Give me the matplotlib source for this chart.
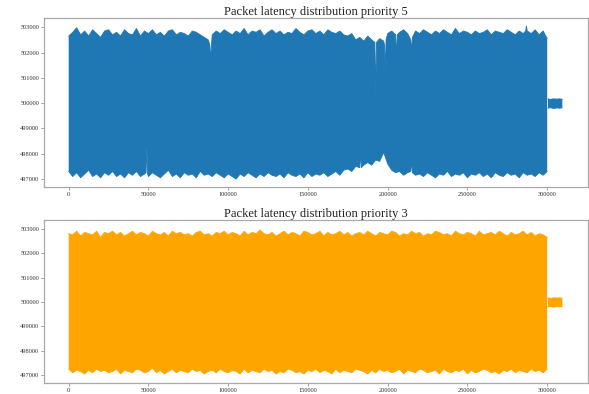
import numpy as np
import matplotlib
matplotlib.use("Agg")
import matplotlib.pyplot as plt

# ---- priority 5: upper and lower edge of the latency trace ----
p5_hi_x = [0, 2500, 5000, 7500, 10000, 12500, 15000, 17500, 20000, 22500,
           25000, 27500, 30000, 32500, 35000, 37500, 40000, 42500, 45000, 47500,
           50000, 52500, 55000, 57500, 60000, 62500, 65000, 67500, 70000, 72500,
           75000, 77500, 80000, 82500, 85000, 87500, 88500, 89000, 89500, 90000,
           92500, 95000, 97500, 100000, 102500, 105000, 107500, 110000, 112500, 115000,
           117500, 120000, 122500, 125000, 127500, 130000, 132500, 135000, 137500, 140000,
           142500, 145000, 147500, 150000, 152500, 155000, 157500, 160000, 162500, 165000,
           167500, 170000, 172500, 175000, 177500, 180000, 182500, 185000, 187500, 190000,
           192000, 192500, 193000, 195000, 197500, 198000, 198500, 199000, 200000, 202500,
           205000, 205500, 206000, 207500, 210000, 212500, 214500, 215000, 215500, 217500,
           220000, 222500, 225000, 227500, 230000, 232500, 235000, 237500, 240000, 242500,
           245000, 247500, 250000, 252500, 255000, 257500, 260000, 262500, 265000, 267500,
           270000, 272500, 275000, 277500, 280000, 282500, 285000, 286500, 287000, 287500,
           290000, 292500, 295000, 297500, 300000]
p5_hi = [502650, 502800, 502980, 502700, 502850, 502650, 502900, 502750, 502600, 502850,
         502900, 502700, 502800, 502650, 502900, 502750, 502700, 502950, 502650, 502850,
         502750, 502900, 502700, 502800, 502650, 502850, 502900, 502700, 502800, 502750,
         502650, 502850, 502800, 502700, 502600, 502500, 502300, 501700, 502300, 502700,
         502850, 502750, 502900, 502800, 502700, 502850, 502750, 502950, 502700, 502850,
         502800, 502900, 502650, 502800, 502900, 502750, 502850, 502700, 502800, 502750,
         502950, 502800, 502700, 502850, 502900, 502750, 502850, 502700, 502900, 502800,
         502750, 502850, 502700, 502650, 502750, 502500, 502600, 502450, 502650, 502500,
         502400, 500300, 502400, 502550, 502450, 502300, 501300, 502500, 502750, 502850,
         502700, 501800, 502700, 502800, 502900, 502750, 502500, 502000, 502600, 502850,
         502750, 502900, 502800, 502700, 502850, 502750, 502900, 502800, 502700, 502950,
         502750, 502850, 502800, 502700, 502850, 502750, 502800, 502900, 502700, 502850,
         502800, 502750, 502900, 502800, 502700, 502850, 502750, 502850, 503050, 502850,
         502750, 502900, 502700, 502850, 502550]

p5_lo_x = [0, 2500, 5000, 7500, 10000, 12500, 15000, 17500, 20000, 22500,
           25000, 27500, 30000, 32500, 35000, 37500, 40000, 42500, 45000, 47500,
           48500, 49000, 49500, 50000, 52500, 55000, 57500, 60000, 62500, 65000,
           67500, 70000, 72500, 75000, 77500, 80000, 82500, 85000, 87500, 90000,
           92500, 95000, 97500, 100000, 102500, 105000, 107500, 110000, 112500, 115000,
           117500, 120000, 122500, 125000, 127500, 130000, 132500, 135000, 137500, 140000,
           142500, 145000, 147500, 150000, 152500, 155000, 157500, 160000, 162500, 165000,
           167500, 170000, 172500, 175000, 177500, 180000, 182500, 183000, 183500, 185000,
           187500, 190000, 192500, 195000, 197500, 200000, 202500, 205000, 207500, 210000,
           212500, 214500, 215000, 215500, 217500, 220000, 222500, 225000, 227500, 230000,
           232500, 235000, 237500, 240000, 242500, 245000, 247500, 250000, 252500, 255000,
           257500, 260000, 262500, 265000, 267500, 270000, 272500, 275000, 277500, 280000,
           282500, 285000, 287500, 290000, 292500, 295000, 297500, 300000]
p5_lo = [497300, 497100, 497250, 497050, 497200, 497350, 497100, 497200, 497050, 497250,
         497150, 497300, 497100, 497200, 497050, 497250, 497150, 497300, 497100, 497200,
         497250, 498250, 497200, 497100, 497250, 497150, 497050, 497200, 497350, 497100,
         497200, 497050, 497250, 497150, 497200, 497050, 497300, 497150, 497200, 497100,
         497250, 497150, 497050, 497200, 497100, 497000, 497200, 497100, 497250, 497150,
         497050, 497200, 497100, 497250, 497150, 497100, 497200, 497050, 497250, 497150,
         497100, 497200, 497050, 497250, 497100, 497200, 497150, 497250, 497100, 497200,
         497300, 497150, 497350, 497400, 497300, 497500, 497450, 498050, 497450, 497550,
         497650, 497550, 497750, 497700, 498050, 497600, 497350, 497250, 497300, 497150,
         497250, 497300, 497750, 497250, 497150, 497200, 497100, 497250, 497150, 497050,
         497200, 497150, 497300, 497100, 497200, 497150, 497250, 497050, 497200, 497150,
         497250, 497100, 497200, 497050, 497250, 497150, 497100, 497250, 497150, 497200,
         497050, 497250, 497150, 497200, 497100, 497250, 497150, 497300]

# ---- priority 3 (sampled every 2500 packets) ----
p3_x = np.arange(0, 300001, 2500)
p3_hi = [502800, 502750, 502900, 502700, 502850, 502800, 502750, 502900, 502650, 502850,
         502800, 502900, 502750, 502850, 502700, 502800, 502900, 502750, 502850, 502800,
         502700, 502900, 502800, 502750, 502850, 502700, 502900, 502800, 502850, 502750,
         502800, 502700, 502850, 502900, 502750, 502800, 502700, 502850, 502800, 502900,
         502750, 502850, 502800, 502700, 502900, 502750, 502850, 502800, 502950, 502800,
         502750, 502850, 502700, 502800, 502900, 502750, 502850, 502800, 502700, 502900,
         502850, 502750, 502800, 502900, 502700, 502850, 502750, 502800, 502900, 502750,
         502850, 502700, 502800, 502850, 502750, 502900, 502800, 502700, 502850, 502800,
         502750, 502900, 502850, 502700, 502800, 502750, 502900, 502800, 502850, 502700,
         502800, 502750, 502900, 502850, 502750, 502800, 502700, 502900, 502800, 502750,
         502850, 502800, 502700, 502900, 502750, 502800, 502850, 502750, 502900, 502800,
         502700, 502850, 502750, 502800, 502900, 502750, 502850, 502700, 502800, 502750,
         502650]
p3_lo = [497250, 497100, 497200, 497150, 497050, 497200, 497100, 497250, 497150, 497200,
         497100, 497150, 497250, 497050, 497200, 497150, 497100, 497250, 497200, 497100,
         497150, 497300, 497100, 497200, 497050, 497150, 497250, 497100, 497200, 497150,
         497100, 497250, 497150, 497200, 497050, 497150, 497200, 497100, 497250, 497150,
         497100, 497200, 497150, 497050, 497250, 497100, 497200, 497150, 497100, 497250,
         497150, 497200, 497050, 497150, 497100, 497250, 497200, 497100, 497150, 497050,
         497200, 497150, 497250, 497100, 497200, 497150, 497050, 497250, 497100, 497200,
         497150, 497100, 497250, 497200, 497150, 497050, 497200, 497100, 497250, 497150,
         497200, 497100, 497150, 497250, 497050, 497200, 497150, 497100, 497250, 497200,
         497100, 497150, 497200, 497050, 497250, 497150, 497100, 497200, 497150, 497250,
         497050, 497200, 497100, 497150, 497250, 497200, 497100, 497150, 497050, 497200,
         497150, 497250, 497100, 497200, 497150, 497100, 497250, 497150, 497200, 497100,
         497250]

# trailing packets after the main burst (both priorities)
tail_x = [300500, 302000, 304000, 306000, 308000, 309500]
tail_hi = [500170, 500150, 500170, 500160, 500170, 500150]
tail_lo = [499800, 499820, 499790, 499810, 499800, 499820]

y_ticks = [497000, 498000, 499000, 500000, 501000, 502000, 503000]
x_ticks = [0, 50000, 100000, 150000, 200000, 250000, 300000]

titles = ["Packet latency distribution priority 5", "Packet latency distribution priority 3"]
colors = ["#1f77b4", "#ffa500"]

serif = ["Liberation Serif", "DejaVu Serif"]

fig = plt.figure(figsize=(5.89, 3.94), dpi=100)
ax1 = fig.add_axes([0.0747, 0.525, 0.9233, 0.429])
ax2 = fig.add_axes([0.0747, 0.0279, 0.9233, 0.4137])


def draw_band(ax, hx, hy, lx, ly, col, lw):
    # closed outline: upper edge left->right, lower edge right->left
    px = np.concatenate([np.asarray(hx), np.asarray(lx)[::-1]])
    py = np.concatenate([np.asarray(hy), np.asarray(ly)[::-1]])
    ax.fill(px, py, color=col, lw=0)
    ax.plot(hx, hy, color=col, lw=lw)
    ax.plot(lx, ly, color=col, lw=lw)


panels = [(ax1, p5_hi_x, p5_hi, p5_lo_x, p5_lo), (ax2, p3_x, p3_hi, p3_x, p3_lo)]
for (ax, hx, hy, lx, ly), title, col in zip(panels, titles, colors):
    draw_band(ax, hx, hy, lx, ly, col, 0.6)
    draw_band(ax, tail_x, tail_hi, tail_x, tail_lo, col, 0.6)
    ax.set_xlim(-15500, 325500)
    ax.set_ylim(496680, 503360)
    ax.set_yticks(y_ticks)
    ax.set_yticklabels([str(v) for v in y_ticks], fontfamily=serif, fontsize=4.6, color="#333333")
    ax.set_xticks(x_ticks)
    ax.set_xticklabels([str(v) for v in x_ticks], fontfamily=serif, fontsize=4.6, color="#333333")
    ax.tick_params(length=2.2, width=0.5, color="#777777", pad=1.2)
    for sp in ax.spines.values():
        sp.set_color("#aaaaaa")
        sp.set_linewidth(0.9)
    ax.set_title(title, fontfamily=serif, fontsize=9, pad=2.5, color="#222222")

fig.savefig("out.png", dpi=100, facecolor="white")
